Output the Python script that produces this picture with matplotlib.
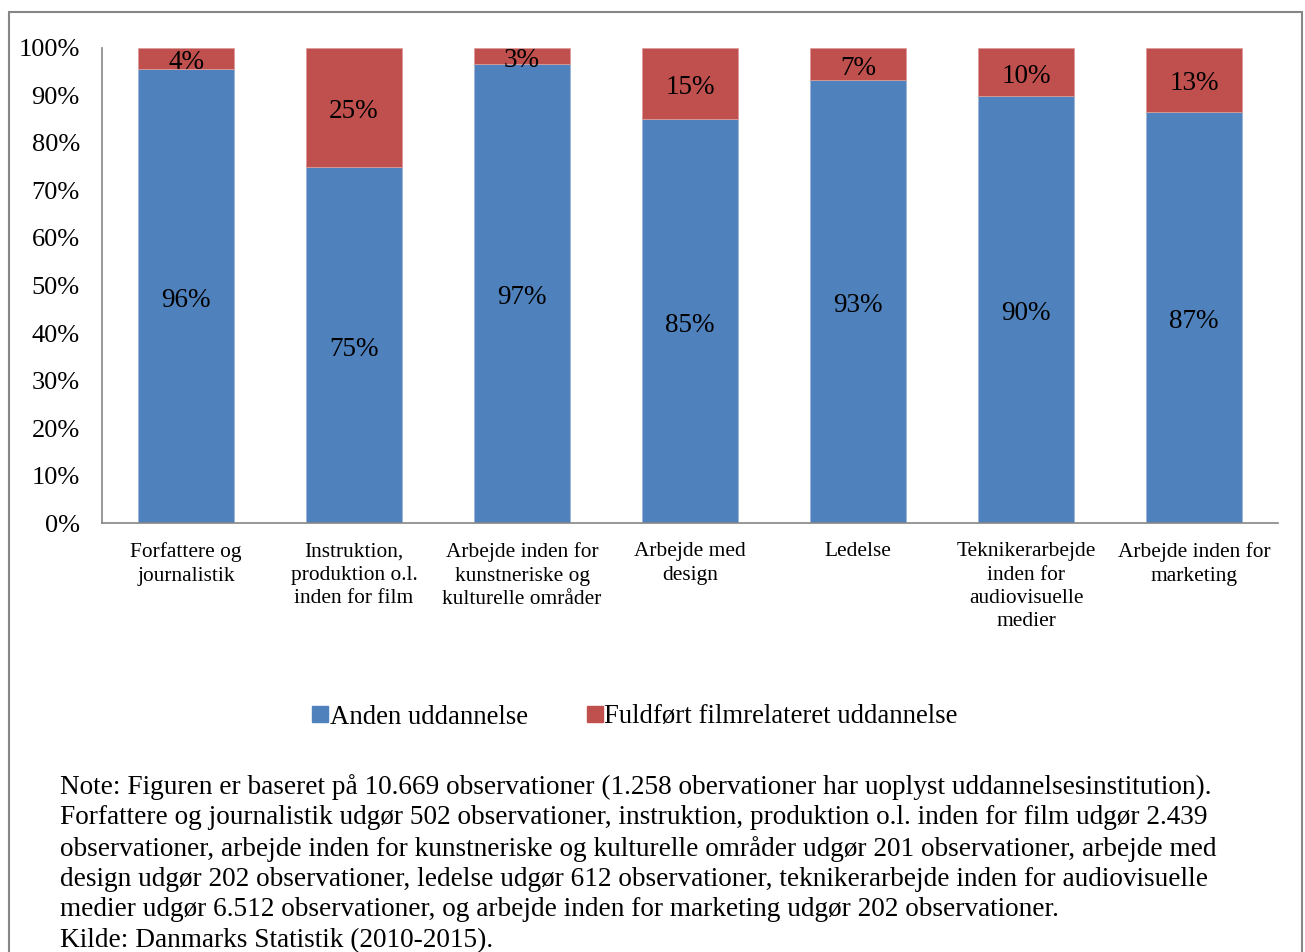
import matplotlib.pyplot as plt
from matplotlib.lines import Line2D
from matplotlib.patches import Rectangle
import numpy as np

# Data (share of each occupation group, in %)
categories = [
    "Forfattere og\njournalistik",
    "Instruktion,\nproduktion o.l.\ninden for film",
    "Arbejde inden for\nkunstneriske og\nkulturelle områder",
    "Arbejde med\ndesign",
    "Ledelse",
    "Teknikerarbejde\ninden for\naudiovisuelle\nmedier",
    "Arbejde inden for\nmarketing",
]
anden = [95.6, 74.9, 96.6, 85.1, 93.3, 89.8, 86.6]
fuldfoert = [4.4, 25.1, 3.4, 14.9, 6.7, 10.2, 13.4]
anden_labels = ["96%", "75%", "97%", "85%", "93%", "90%", "87%"]
fuldfoert_labels = ["4%", "25%", "3%", "15%", "7%", "10%", "13%"]
series_names = ["Anden uddannelse", "Fuldført filmrelateret uddannelse"]

note = ("Note: Figuren er baseret på 10.669 observationer (1.258 obervationer har uoplyst uddannelsesinstitution).\n"
        "Forfattere og journalistik udgør 502 observationer, instruktion, produktion o.l. inden for film udgør 2.439\n"
        "observationer, arbejde inden for kunstneriske og kulturelle områder udgør 201 observationer, arbejde med\n"
        "design udgør 202 observationer, ledelse udgør 612 observationer, teknikerarbejde inden for audiovisuelle\n"
        "medier udgør 6.512 observationer, og arbejde inden for marketing udgør 202 observationer.\n"
        "Kilde: Danmarks Statistik (2010-2015).")

BLUE = "#4F81BD"
RED = "#C0504D"
GREY = "#868686"

plt.rcParams['font.family'] = ['Liberation Serif', 'DejaVu Serif']

fig = plt.figure(figsize=(13.05, 9.52), dpi=100)
ax = fig.add_axes([0.0782, 0.4506, 0.9011, 0.499])

x = np.arange(len(categories))
w = 0.57
ax.bar(x, anden, w, color=BLUE, edgecolor="#9DB6DA", linewidth=0.6)
ax.bar(x, fuldfoert, w, bottom=anden, color=RED, edgecolor="#DA9C9A", linewidth=0.6)

# data labels in the middle of each segment, nudged down a little like Excel
for i in range(len(x)):
    ax.annotate(anden_labels[i], (x[i], anden[i] / 2), xytext=(0, -3),
                textcoords="offset points", ha="center", va="center", fontsize=19.5)
    ax.annotate(fuldfoert_labels[i], (x[i], anden[i] + fuldfoert[i] / 2), xytext=(0, -3),
                textcoords="offset points", ha="center", va="center", fontsize=19.5)

ax.set_xlim(-0.5, len(categories) - 0.5)
ax.set_ylim(0, 100)
ax.set_yticks(np.arange(0, 101, 10))
ax.set_yticklabels([f"{v}%" for v in range(0, 101, 10)])
ax.set_xticks(x)
ax.set_xticklabels(categories, fontsize=15.4, linespacing=1.31, va="top")
ax.tick_params(axis="y", length=0, pad=16, labelsize=19)
ax.tick_params(axis="x", length=0, pad=14)

for side in ["top", "right"]:
    ax.spines[side].set_visible(False)
for side in ["left", "bottom"]:
    ax.spines[side].set_color(GREY)
    ax.spines[side].set_linewidth(1.2)

handles = [Line2D([], [], marker="s", linestyle="", color=BLUE, markersize=11),
           Line2D([], [], marker="s", linestyle="", color=RED, markersize=11)]
fig.legend(handles, series_names, loc="center", bbox_to_anchor=(635 / 1305, 1 - 717 / 952),
           ncol=2, frameon=False, fontsize=19.3, handlelength=0.6, handletextpad=0.05,
           columnspacing=2.2)

fig.text(60 / 1305, 1 - 774 / 952, note, ha="left", va="top", fontsize=19.6, linespacing=1.28)

# outer chart frame (bottom edge runs off the image)
fig.patches.append(Rectangle((9 / 1305, -0.05), 1293 / 1305, 1.05 - 12 / 952,
                             transform=fig.transFigure, fill=False,
                             edgecolor=GREY, linewidth=1.5))

fig.savefig("out.png", dpi=100, facecolor="white")
